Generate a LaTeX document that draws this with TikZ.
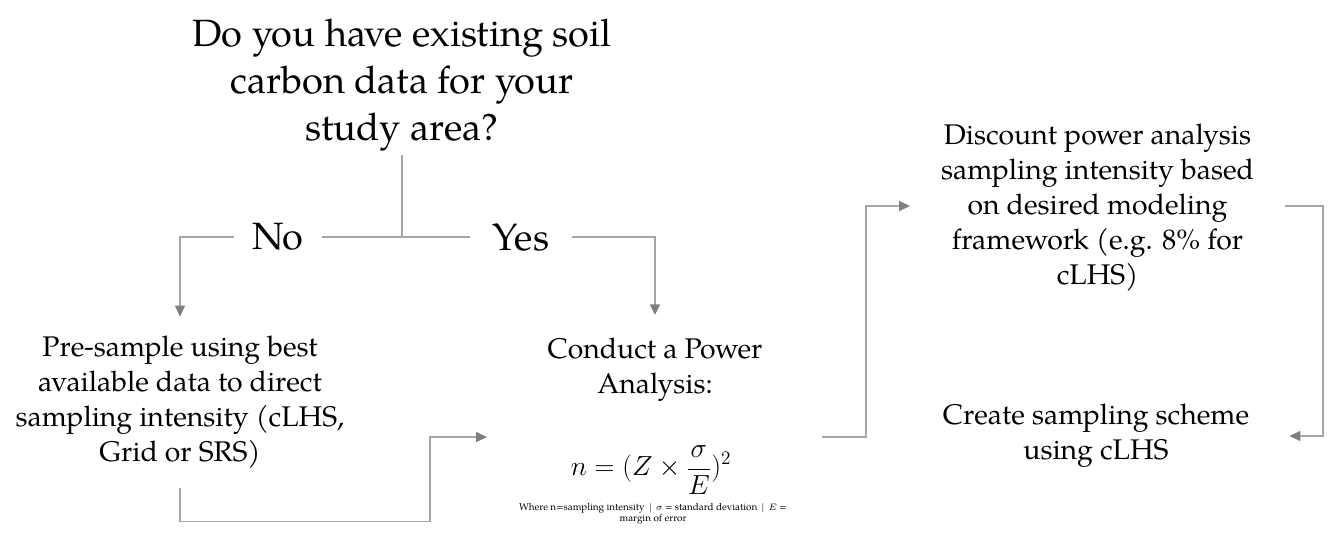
\documentclass[tikz,border=0pt]{standalone}
\usepackage{fontspec}
\setmainfont{TeX Gyre Pagella}
\usetikzlibrary{arrows.meta}
\definecolor{linegray}{HTML}{A6A6A6}
\definecolor{tipgray}{HTML}{7F7F7F}
\tikzset{
  conn/.style={draw=linegray, line width=1.1pt},
  arr/.style={conn, -{Triangle[length=8pt,width=7.5pt,color=tipgray]}},
  bigtxt/.style={align=center, font=\fontsize{28.5}{35.4}\selectfont, inner sep=0pt},
  txt/.style={align=center, font=\fontsize{21.3}{26.2}\selectfont, inner sep=0pt},
}
\begin{document}
\begin{tikzpicture}[x=0.75pt,y=-0.75pt]
\useasboundingbox (0,0) rectangle (1333,533);
% question
\node[bigtxt, minimum height=105pt] (q) at (402,85) {Do you have existing soil\\carbon data for your\\study area?};
\coordinate (split) at (402,237);
\node[bigtxt, minimum width=65pt, minimum height=20pt] (no) at (278,237) {No};
\node[bigtxt, minimum width=76pt, minimum height=20pt] (yes) at (521,237) {Yes};
% left box
\node[txt, minimum height=128pt] (pre) at (180,402) {Pre-sample using best\\available data to direct\\sampling intensity (cLHS,\\Grid or SRS)};
% power analysis
\node[txt, minimum height=82pt, anchor=north] (conduct) at (655,315) {Conduct a Power\\Analysis:};
\node[minimum width=251pt, minimum height=10pt, inner sep=0pt] (power) at (654.5,437) {};
\node[inner sep=0pt, font=\fontsize{20.5}{24}\selectfont] (formula) at (651,470) {$\displaystyle n = (Z \times \frac{\sigma}{E})^2$};
\node[align=center, inner sep=0pt, font=\fontsize{7.4}{8.4}\selectfont] (note) at (653,514) {Where n=sampling intensity \,$|$\, $\sigma$ = standard deviation \,$|$\, $E$ =\\margin of error};
% right column
\node[txt, minimum width=281pt, minimum height=20pt] (disc) at (1097.5,208) {Discount power analysis\\sampling intensity based\\on desired modeling\\framework (e.g. 8\% for\\cLHS)};
\node[txt, minimum width=290pt, minimum height=20pt] (create) at (1096,436) {Create sampling scheme\\using cLHS};
% connectors
\draw[conn] (q.south) -- (split);
\draw[conn] (split) -- (no.east);
\draw[conn] (split) -- (yes.west);
\draw[arr] (no.west) -| (pre.north);
\draw[arr] (yes.east) -| (conduct.north);
\draw[arr] (pre.south) -- ++(0,34) -- ++(250,0) |- (power.west);
\draw[arr] (power.east) -- ++(44,0) |- ([yshift=1.5pt]disc.west);
\draw[arr] ([yshift=1.5pt]disc.east) -- ++(38,0) |- (create.east);
\end{tikzpicture}
\end{document}
